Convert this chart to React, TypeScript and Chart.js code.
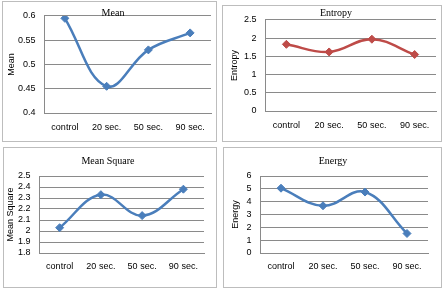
import React, { useEffect, useRef } from "react";
import { Chart, registerables } from "chart.js";

Chart.register(...registerables);

const categories = ["control", "20 sec.", "50 sec.", "90 sec."];
const meanValues = [0.595, 0.455, 0.53, 0.565];
const entropyValues = [1.83, 1.62, 1.97, 1.55];
const meanSquareValues = [2.03, 2.33, 2.14, 2.38];
const energyValues = [5.05, 3.68, 4.75, 1.52];

const BLUE = "#4A7EBB";
const RED = "#BE4B48";
const GRID = "#8a8a8a";
const TICK_FONT = { family: "'Liberation Sans', Arial, sans-serif", size: 9 };
const TITLE_FONT = "10px 'Liberation Serif', 'Times New Roman', serif";

const titlePlugin = {
  id: "panelTitle",
  afterDraw(chart: any, _args: any, opts: any) {
    if (!opts || !opts.text) return;
    const ctx = chart.ctx;
    ctx.save();
    ctx.font = TITLE_FONT;
    ctx.fillStyle = "#000";
    ctx.textAlign = "center";
    ctx.textBaseline = "middle";
    ctx.fillText(opts.text, opts.x, opts.y);
    ctx.restore();
  },
};

type PanelProps = {
  left: number;
  top: number;
  width: number;
  height: number;
  values: number[];
  color: string;
  title: string;
  titleX: number;
  titleY: number;
  yTitle: string;
  yTitlePad: number;
  min: number;
  max: number;
  step: number;
  yw: number;
  xh: number;
  padTop: number;
  padRight: number;
  xPad: number;
};

function Panel(p: PanelProps) {
  const ref = useRef<HTMLCanvasElement | null>(null);
  useEffect(() => {
    if (!ref.current) return;
    const chart = new Chart(ref.current, {
      type: "line",
      data: {
        labels: categories,
        datasets: [
          {
            data: p.values,
            borderColor: p.color,
            backgroundColor: p.color,
            borderWidth: 2.5,
            tension: 0.4,
            pointStyle: "rectRot",
            pointRadius: 4,
            pointBorderWidth: 1,
            pointBackgroundColor: p.color,
            pointBorderColor: p.color,
            fill: false,
          },
        ],
      },
      options: {
        responsive: false,
        animation: false,
        devicePixelRatio: 1,
        layout: { padding: { left: 0, top: p.padTop, right: p.padRight, bottom: 0 } },
        plugins: {
          legend: { display: false },
          tooltip: { enabled: false },
          title: { display: false },
          panelTitle: { text: p.title, x: p.titleX, y: p.titleY },
        } as any,
        scales: {
          x: {
            type: "category",
            offset: true,
            grid: { display: false, drawTicks: false },
            border: { display: true, color: GRID, width: 1 },
            ticks: { color: "#000", font: TICK_FONT, padding: p.xPad, maxRotation: 0, autoSkip: false },
            afterFit: (s: any) => {
              s.height = p.xh;
            },
          },
          y: {
            min: p.min,
            max: p.max,
            grid: { color: GRID, drawTicks: false, lineWidth: 1 },
            border: { display: true, color: GRID, width: 1 },
            ticks: {
              stepSize: p.step,
              autoSkip: false,
              color: "#000",
              font: TICK_FONT,
              padding: 8.5,
              callback: (v: any) => String(Number(Number(v).toFixed(3))),
            },
            title: {
              display: true,
              text: p.yTitle,
              color: "#000",
              font: { family: "'Liberation Sans', Arial, sans-serif", size: 9 },
              padding: { top: p.yTitlePad, bottom: 0 },
            },
            afterFit: (s: any) => {
              s.width = p.yw;
            },
          },
        },
      } as any,
      plugins: [titlePlugin],
    });
    return () => chart.destroy();
  }, []);
  return (
    <div
      style={{
        position: "absolute",
        left: p.left,
        top: p.top,
        width: p.width,
        height: p.height,
        border: "1px solid #bdbdbd",
        boxSizing: "border-box",
        background: "#fff",
      }}
    >
      <canvas
        ref={ref}
        width={p.width - 2}
        height={p.height - 2}
        style={{ display: "block", width: p.width - 2, height: p.height - 2 }}
      />
    </div>
  );
}

export default function App() {
  return (
    <div style={{ position: "fixed", left: 0, top: 0, width: 448, height: 288, background: "#fff" }}>
      <Panel
        left={2} top={1} width={215} height={141}
        values={meanValues} color={BLUE}
        title="Mean" titleX={110} titleY={11}
        yTitle="Mean" yTitlePad={3}
        min={0.4} max={0.6} step={0.05}
        yw={41} xh={28} padTop={12} padRight={4} xPad={9}
      />
      <Panel
        left={222} top={5} width={220} height={137}
        values={entropyValues} color={RED}
        title="Entropy" titleX={113} titleY={7}
        yTitle="Entropy" yTitlePad={6}
        min={0} max={2.5} step={0.5}
        yw={42} xh={30} padTop={12} padRight={5} xPad={9}
      />
      <Panel
        left={3} top={147} width={214} height={141}
        values={meanSquareValues} color={BLUE}
        title="Mean Square" titleX={104} titleY={13}
        yTitle="Mean Square" yTitlePad={1}
        min={1.8} max={2.5} step={0.1}
        yw={35} xh={34} padTop={28} padRight={12} xPad={8.5}
      />
      <Panel
        left={223} top={147} width={219} height={141}
        values={energyValues} color={BLUE}
        title="Energy" titleX={109} titleY={13}
        yTitle="Energy" yTitlePad={6}
        min={0} max={6} step={1}
        yw={36} xh={34} padTop={28} padRight={13} xPad={8.5}
      />
    </div>
  );
}
